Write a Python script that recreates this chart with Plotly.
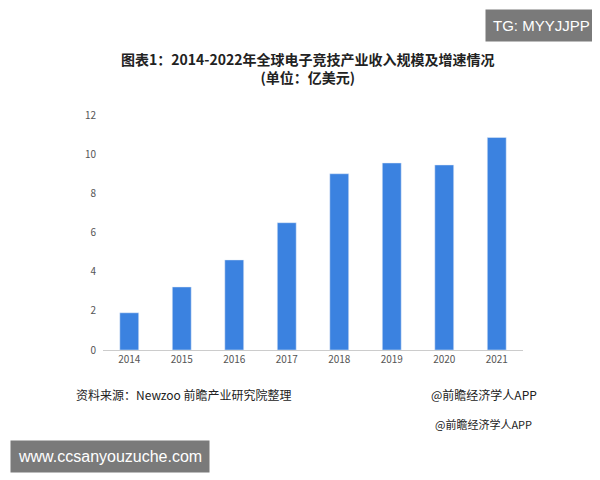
import plotly.graph_objects as go

years = ["2014","2015","2016","2017","2018","2019","2020","2021"]
revenue = [1.9, 3.22, 4.6, 6.5, 9.0, 9.55, 9.45, 10.85]
yticks = [0,2,4,6,8,10,12]

L, R, T, B = 95, 85, 107, 138
PW = 600 - L - R
PH = 480 - T - B
def px(x): return (x - L) / PW
def py(y): return (480 - B - y) / PH

fig = go.Figure(go.Bar(x=years, y=revenue, marker_color="#3b82e0", width=0.36))
fig.update_layout(
    width=600, height=480, paper_bgcolor="white", plot_bgcolor="white",
    margin=dict(l=L, r=R, t=T, b=B), showlegend=False,
    font=dict(family="Noto Sans CJK SC", color="#555"),
    xaxis=dict(showline=True, linecolor="#ccc", tickfont=dict(size=10, color="#555"), ticks=""),
    yaxis=dict(range=[0,12], tickvals=yticks, showgrid=False, tickfont=dict(size=10, color="#555"),
               zeroline=False, ticklabelstandoff=6),
)
fig.add_annotation(text="<b>图表1：2014-2022年全球电子竞技产业收入规模及增速情况<br>(单位：亿美元)</b>",
                   xref="paper", yref="paper", x=px(300), y=py(69), yshift=30, showarrow=False,
                   font=dict(size=14, color="#222"), align="center")
fig.add_annotation(text="资料来源：Newzoo 前瞻产业研究院整理", xref="paper", yref="paper", x=px(76), y=py(397),
                   xanchor="left", xshift=-10, showarrow=False, font=dict(size=12, color="#222"))
fig.add_annotation(text="@前瞻经济学人APP", xref="paper", yref="paper", x=px(531), y=py(397),
                   xanchor="right", showarrow=False, font=dict(size=12, color="#222"))
fig.add_annotation(text="@前瞻经济学人APP", xref="paper", yref="paper", x=px(526), y=py(428),
                   xanchor="right", yshift=2, showarrow=False, font=dict(size=11, color="#222"))
fig.add_annotation(text="TG: MYYJJPP", xref="paper", yref="paper", x=px(590), y=py(24),
                   xanchor="right", yshift=23, showarrow=False, bgcolor="#7a7a7a", borderpad=7,
                   font=dict(size=15, color="white", family="Liberation Sans"))
fig.add_annotation(text="www.ccsanyouzuche.com", xref="paper", yref="paper", x=px(10), y=py(455),
                   xanchor="left", xshift=-8, yshift=-10, showarrow=False, bgcolor="#7a7a7a", borderpad=7,
                   font=dict(size=16, color="white", family="Liberation Sans"))
fig.write_html("out.html")
